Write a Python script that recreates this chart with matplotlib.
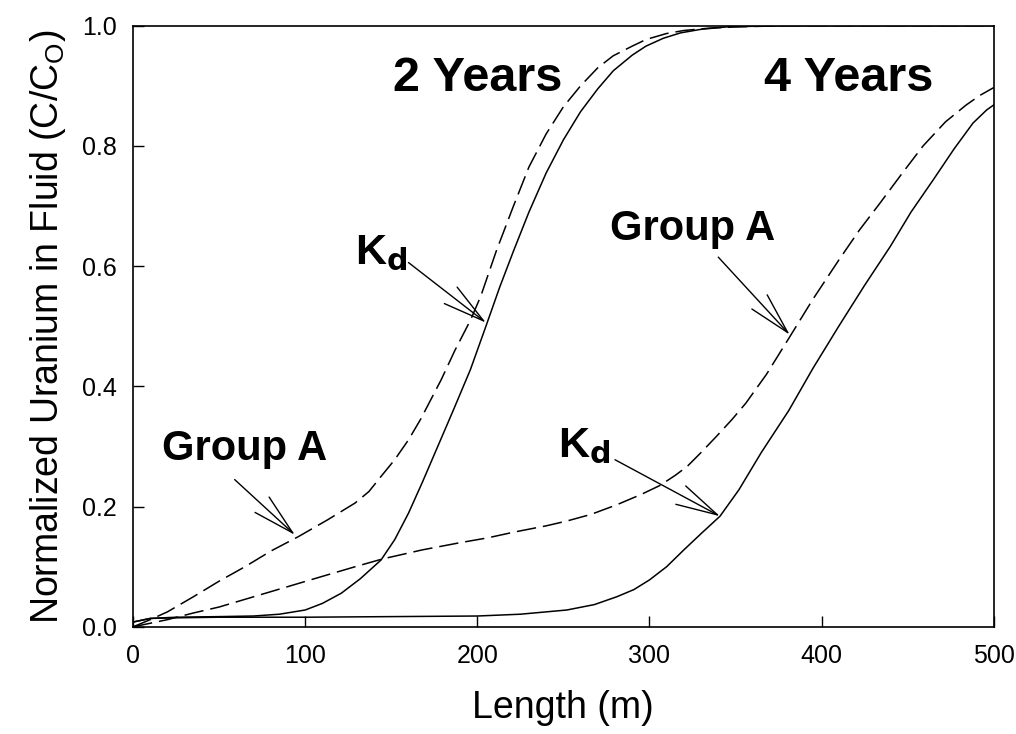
import matplotlib
matplotlib.use("Agg")
import matplotlib.pyplot as plt

plt.rcParams["font.family"] = ["Liberation Sans", "DejaVu Sans"]
plt.rcParams["mathtext.default"] = "regular"
plt.rcParams["lines.scale_dashes"] = False

# Kd model, 2 years
kd2_x = [0, 10, 25, 50, 70, 85, 100, 110, 121, 132, 144, 152, 160, 168, 177, 186, 196, 205,
         213, 221, 230, 240, 250, 260, 270, 279, 290, 298, 308, 318, 330, 345, 360, 380, 420, 460, 500]
kd2_y = [0.008, 0.014, 0.016, 0.017, 0.018, 0.021, 0.028, 0.039, 0.056, 0.080, 0.111, 0.145, 0.189,
         0.24, 0.30, 0.36, 0.428, 0.50, 0.565, 0.625, 0.69, 0.755, 0.81, 0.857, 0.895, 0.925, 0.951,
         0.966, 0.979, 0.988, 0.994, 0.998, 0.999, 1.0, 1.0, 1.0, 1.0]

# Group A model, 2 years
ga2_x = [0, 10, 20, 35, 50, 65, 80, 96, 113, 129, 137, 144, 152, 160, 167, 173, 179, 187, 196,
         202, 211, 221, 230, 240, 250, 260, 270, 279, 290, 298, 310, 320, 335, 350, 380, 420, 460, 500]
ga2_y = [0.0, 0.012, 0.025, 0.05, 0.076, 0.10, 0.126, 0.15, 0.178, 0.206, 0.225, 0.25, 0.278, 0.311,
         0.345, 0.378, 0.411, 0.46, 0.51, 0.55, 0.625, 0.70, 0.765, 0.82, 0.865, 0.90, 0.93, 0.95,
         0.966, 0.977, 0.987, 0.992, 0.996, 0.998, 1.0, 1.0, 1.0, 1.0]

# Kd model, 4 years
kd4_x = [0, 10, 25, 50, 100, 150, 200, 225, 252, 268, 281, 291, 300, 310, 320, 330, 341, 352, 365,
         381, 395, 410, 425, 440, 452, 465, 477, 488, 496, 500]
kd4_y = [0.008, 0.014, 0.015, 0.016, 0.016, 0.017, 0.018, 0.021, 0.028, 0.037, 0.05, 0.062, 0.078,
         0.10, 0.128, 0.155, 0.184, 0.228, 0.29, 0.36, 0.43, 0.50, 0.568, 0.633, 0.69, 0.744, 0.795,
         0.838, 0.860, 0.868]

# Group A model, 4 years
ga4_x = [0, 10, 20, 35, 50, 70, 90, 110, 129, 145, 168, 190, 206, 222, 240, 252, 266, 281, 295, 306,
         315, 322, 330, 339, 348, 356, 368, 381, 395, 410, 422, 434, 447, 459, 472, 484, 492, 500]
ga4_y = [0.0, 0.006, 0.012, 0.023, 0.033, 0.05, 0.067, 0.084, 0.10, 0.113, 0.128, 0.14, 0.148, 0.158,
         0.168, 0.176, 0.187, 0.203, 0.22, 0.235, 0.252, 0.267, 0.29, 0.317, 0.345, 0.372, 0.42, 0.48,
         0.545, 0.61, 0.66, 0.705, 0.755, 0.80, 0.84, 0.868, 0.884, 0.897]

x_ticks = [0, 100, 200, 300, 400, 500]
y_ticks = [0.0, 0.2, 0.4, 0.6, 0.8, 1.0]

fig = plt.figure(figsize=(10.16, 7.34), dpi=100)
ax = fig.add_axes([0.131, 0.146, 0.847, 0.819])

dash = (0, (14, 5))
ax.plot(kd2_x, kd2_y, color="black", lw=1.1)
ax.plot(ga2_x, ga2_y, color="black", lw=1.1, linestyle=dash)
ax.plot(kd4_x, kd4_y, color="black", lw=1.1)
ax.plot(ga4_x, ga4_y, color="black", lw=1.1, linestyle=dash)

ax.set_xlim(0, 500)
ax.set_ylim(0, 1.0)
ax.set_xticks(x_ticks)
ax.set_xticklabels([str(v) for v in x_ticks])
ax.set_yticks(y_ticks)
ax.set_yticklabels([f"{v:.1f}" for v in y_ticks])
ax.tick_params(direction="in", length=8, width=1.0, labelsize=18, pad=12)
for sp in ax.spines.values():
    sp.set_linewidth(1.2)

ax.set_xlabel("Length (m)", fontsize=27, labelpad=16)
ax.set_ylabel(r"Normalized Uranium in Fluid (C/C$_{O}$)", fontsize=27, labelpad=10)

bold = dict(fontweight="bold", ha="center", va="center", color="black")
ax.text(200, 0.912, "2 Years", fontsize=35, **bold)
ax.text(416, 0.912, "4 Years", fontsize=35, **bold)
ax.text(65, 0.295, "Group A", fontsize=30, **bold)
ax.text(325, 0.662, "Group A", fontsize=30, **bold)
ax.text(144, 0.622, r"K$_\mathbf{d}$", fontsize=31, **bold)
ax.text(262, 0.300, r"K$_\mathbf{d}$", fontsize=31, **bold)

arrow = dict(arrowstyle="->,head_length=3.0,head_width=0.75", lw=1.0, color="black",
             mutation_scale=10, shrinkA=0, shrinkB=0)
ax.annotate("", xy=(94, 0.153), xytext=(59, 0.245), arrowprops=arrow)
ax.annotate("", xy=(205, 0.506), xytext=(160, 0.606), arrowprops=arrow)
ax.annotate("", xy=(381.5, 0.486), xytext=(340, 0.615), arrowprops=arrow)
ax.annotate("", xy=(341, 0.184), xytext=(280, 0.278), arrowprops=arrow)

fig.savefig("out.png", dpi=100)
